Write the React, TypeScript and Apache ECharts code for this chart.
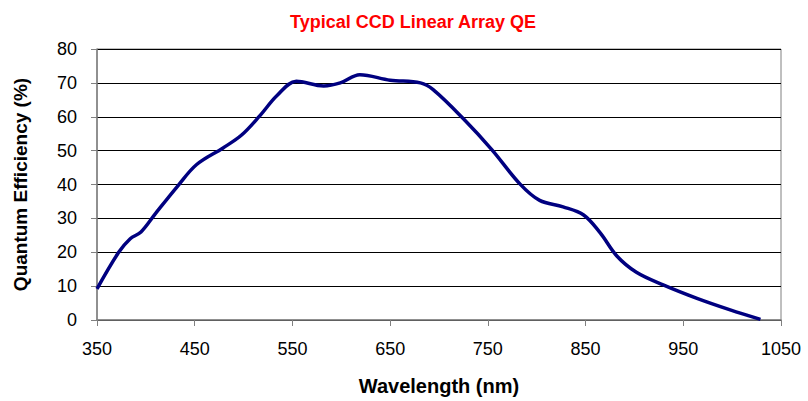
import React, { useEffect, useRef } from "react";
import * as echarts from "echarts";

const wavelengths = [350, 372, 384, 395, 410, 433, 452, 479, 498, 517, 534, 554, 582, 599, 619, 650, 681, 694, 725, 754, 783, 803, 827, 848, 865, 882, 902, 930, 964, 998, 1029];
const qeValues = [9.2, 19.9, 24, 26, 31.5, 39.7, 45.9, 50.8, 54.6, 60.4, 66.2, 70.5, 69.1, 70, 72.4, 70.8, 70, 68, 59.4, 50.3, 40.1, 35.3, 33.4, 31, 25.7, 18.9, 14.1, 10.3, 6.4, 3.0, 0.2];
const xTicks = [350, 450, 550, 650, 750, 850, 950, 1050];
const yTicks = [0, 10, 20, 30, 40, 50, 60, 70, 80];

export default function App() {
  const ref = useRef<HTMLDivElement>(null);
  useEffect(() => {
    if (!ref.current) return;
    const chart = echarts.init(ref.current, null, { renderer: "svg" });
    const font = "'Liberation Sans', Arial, sans-serif";
    chart.setOption({
      animation: false,
      backgroundColor: "#ffffff",
      title: {
        text: "Typical CCD Linear Array QE",
        left: 408,
        top: 8,
        textAlign: "center",
        textStyle: { color: "#ff0000", fontSize: 18, fontWeight: "bold", fontFamily: font },
      },
      grid: {
        left: 97,
        right: 27,
        top: 49,
        bottom: 76,
        show: true,
        borderColor: "#808080",
        borderWidth: 1,
      },
      xAxis: {
        type: "value",
        min: xTicks[0],
        max: xTicks[xTicks.length - 1],
        interval: 100,
        name: "Wavelength (nm)",
        nameLocation: "middle",
        nameGap: 56,
        nameTextStyle: { fontSize: 20, fontWeight: "bold", color: "#000", fontFamily: font },
        axisLine: { lineStyle: { color: "#808080", width: 1.5 } },
        axisTick: { show: true, length: 6, inside: false, lineStyle: { color: "#808080" } },
        axisLabel: { fontSize: 18, color: "#000", margin: 20, fontFamily: font, formatter: (v: number) => String(v) },
        splitLine: { show: false },
      },
      yAxis: {
        type: "value",
        min: yTicks[0],
        max: yTicks[yTicks.length - 1],
        interval: 10,
        name: "Quantum Efficiency (%)",
        nameLocation: "middle",
        nameGap: 67,
        nameTextStyle: { fontSize: 19, fontWeight: "bold", color: "#000", fontFamily: font },
        axisLine: { show: true, lineStyle: { color: "#808080", width: 1.5 } },
        axisTick: { show: true, length: 6, inside: false, lineStyle: { color: "#808080" } },
        axisLabel: { fontSize: 18, color: "#000", margin: 20, fontFamily: font, formatter: (v: number) => String(v) },
        splitLine: { show: true, lineStyle: { color: "#000", width: 1 } },
      },
      series: [
        {
          type: "line",
          data: wavelengths.map((w, i) => [w, qeValues[i]]),
          smooth: 0.35,
          showSymbol: false,
          lineStyle: { color: "#000080", width: 3.5 },
          itemStyle: { color: "#000080" },
        },
      ],
    });
    return () => chart.dispose();
  }, []);
  return <div ref={ref} style={{ position: "fixed", left: 0, top: 0, width: 808, height: 401 }} />;
}
